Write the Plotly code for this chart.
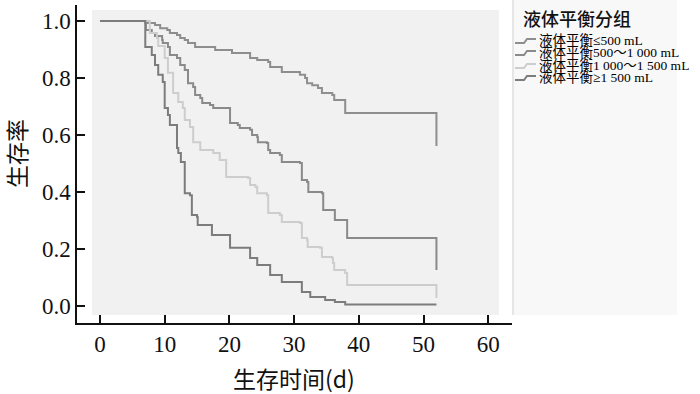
import plotly.graph_objects as go

# ---------------- data ----------------
group_names = ["液体平衡≤500 mL", "液体平衡500～1 000 mL", "液体平衡1 000～1 500 mL", "液体平衡≥1 500 mL"]
legend_title = "液体平衡分组"

tA = [0, 7.0, 8.5, 9.3, 10.4, 10.8, 11.9, 12.4, 13.1, 13.6, 14.7, 17.8, 20.4, 23.2, 24.3, 26.0, 26.3, 28.1,
      30.9, 31.7, 32.0, 32.8, 33.7, 34.3, 35.9, 36.2, 37.9, 52.0, 52.0]
sA = [1.0, 0.993, 0.986, 0.975, 0.968, 0.958, 0.951, 0.940, 0.933, 0.923, 0.909, 0.898, 0.888, 0.870, 0.863,
      0.856, 0.839, 0.821, 0.811, 0.800, 0.782, 0.775, 0.765, 0.747, 0.740, 0.723, 0.677, 0.677, 0.561]

tB = [0, 7.1, 8.0, 8.5, 9.6, 9.7, 10.5, 10.8, 11.9, 12.4, 13.1, 13.6, 14.4, 14.7, 15.5, 15.8, 17.0, 17.5, 20.1,
      21.3, 21.6, 23.2, 23.5, 24.3, 24.4, 25.8, 26.0, 26.3, 27.8, 28.1, 30.9, 31.2, 32.0, 32.2, 34.3, 34.5,
      36.3, 38.2, 52.0, 52.0]
sB = [1.0, 0.968, 0.958, 0.947, 0.933, 0.923, 0.909, 0.881, 0.870, 0.846, 0.828, 0.782, 0.768, 0.740, 0.730,
      0.712, 0.705, 0.695, 0.642, 0.635, 0.625, 0.618, 0.600, 0.593, 0.575, 0.572, 0.547, 0.537, 0.530, 0.505,
      0.502, 0.442, 0.435, 0.400, 0.396, 0.337, 0.302, 0.239, 0.239, 0.126]

tC = [0, 7.7, 8.8, 9.0, 10.0, 10.5, 11.3, 12.1, 12.8, 13.1, 13.9, 14.4, 15.5, 17.5, 18.5, 19.5, 22.9, 23.2,
      24.0, 24.3, 25.8, 26.0, 27.8, 28.1, 30.9, 31.2, 32.0, 32.1, 34.0, 34.3, 35.9, 36.0, 36.2, 37.9, 38.2,
      52.0, 52.0]
sC = [1.0, 0.958, 0.940, 0.912, 0.870, 0.818, 0.747, 0.716, 0.695, 0.653, 0.628, 0.575, 0.547, 0.537, 0.512,
      0.453, 0.449, 0.425, 0.418, 0.396, 0.389, 0.326, 0.319, 0.295, 0.291, 0.239, 0.232, 0.207, 0.204, 0.172,
      0.168, 0.151, 0.126, 0.116, 0.074, 0.074, 0.028]

tD = [0, 7.0, 8.0, 8.5, 9.0, 9.7, 10.0, 10.5, 10.8, 11.9, 12.1, 12.5, 13.1, 13.9, 14.2, 15.0, 15.1, 17.3, 20.1,
      23.2, 24.3, 26.3, 28.1, 31.2, 32.5, 34.8, 36.3, 37.9, 52.0]
sD = [1.0, 0.909, 0.881, 0.846, 0.811, 0.786, 0.695, 0.670, 0.635, 0.554, 0.537, 0.505, 0.396, 0.389, 0.319,
      0.312, 0.284, 0.249, 0.204, 0.168, 0.144, 0.109, 0.084, 0.049, 0.032, 0.021, 0.014, 0.005, 0.005]

x_ticks = [0, 10, 20, 30, 40, 50, 60]
y_ticks = [0.0, 0.2, 0.4, 0.6, 0.8, 1.0]
x_title = "生存时间(d)"
y_title = "生存率"

# ---------------- styling ----------------
colors = ["#8e8e8e", "#8a8a8a", "#cdcdcd", "#7c7c7c"]
W, H = 700, 394
L, R, T, B = 77, 512, 5, 323  # plot area in pixels


def px(x):
    return (x - L) / (R - L)


def py(y):
    return (B - y) / (B - T)


fig = go.Figure()
series = [(tA, sA), (tB, sB), (tC, sC), (tD, sD)]
for (t, s), name, c in zip(series, group_names, colors):
    fig.add_trace(go.Scatter(x=t, y=s, mode="lines", line=dict(shape="hv", color=c, width=2),
                             name=name, showlegend=False, hoverinfo="skip"))

shapes = []
# gray plotting panel
shapes.append(dict(type="rect", xref="paper", yref="paper", x0=px(92), x1=px(499), y0=py(315), y1=py(10),
                   fillcolor="#f1f1f1", line=dict(width=0), layer="below"))
# legend panel
shapes.append(dict(type="rect", xref="paper", yref="paper", x0=px(512), x1=px(677), y0=py(315), y1=py(0),
                   fillcolor="#f8f8f8", line=dict(width=0), layer="below"))
shapes.append(dict(type="line", xref="paper", yref="paper", x0=px(513), x1=px(513), y0=py(315), y1=py(0),
                   line=dict(color="#e6e6e6", width=2), layer="below"))

annotations = []
annotations.append(dict(text=legend_title, xref="paper", yref="paper", x=px(521), y=py(18), xanchor="left",
                        yanchor="middle", showarrow=False,
                        font=dict(family="Noto Sans CJK SC", size=18, color="#111", weight=500)))
row_y = [41, 53, 66, 78]
for name, c, yy in zip(group_names, colors, row_y):
    path = (f"M {px(515)},{py(yy + 2)} L {px(524)},{py(yy + 2)} L {px(527)},{py(yy - 2)} "
            f"L {px(536)},{py(yy - 2)}")
    shapes.append(dict(type="path", xref="paper", yref="paper", path=path, line=dict(color=c, width=2)))
    annotations.append(dict(text=name, xref="paper", yref="paper", x=px(537), y=py(yy), xanchor="left",
                            yanchor="middle", showarrow=False,
                            font=dict(family="Liberation Serif, Noto Sans CJK SC", size=13.5, color="#000")))

annotations.append(dict(text=y_title, xref="paper", yref="paper", x=px(16), y=py(153), textangle=-90,
                        xanchor="center", yanchor="middle", showarrow=False,
                        font=dict(family="Noto Sans CJK SC", size=23, color="#111")))
annotations.append(dict(text=x_title, xref="paper", yref="paper", x=px(294), y=py(378), xanchor="center",
                        yanchor="middle", showarrow=False,
                        font=dict(family="Noto Sans CJK SC", size=23, color="#111")))

tick_font = dict(family="Liberation Serif", size=23, color="#111")
fig.update_layout(
    width=W, height=H,
    margin=dict(l=L, r=W - R, t=T, b=H - B, pad=0),
    paper_bgcolor="white", plot_bgcolor="rgba(0,0,0,0)",
    showlegend=False,
    shapes=shapes, annotations=annotations,
    xaxis=dict(range=[(L - 100) / 6.47, (R - 100) / 6.47], tickvals=x_ticks, ticktext=[str(v) for v in x_ticks],
               showgrid=False, zeroline=False, showline=True, linecolor="#111", linewidth=1.5,
               ticks="inside", ticklen=8, tickwidth=1.5, tickcolor="#111", tickfont=tick_font),
    yaxis=dict(range=[(306 - B) / 285, (306 - T) / 285], tickvals=y_ticks,
               ticktext=[f"{v:.1f}" for v in y_ticks],
               showgrid=False, zeroline=False, showline=True, linecolor="#111", linewidth=1.5,
               ticks="inside", ticklen=8, tickwidth=1.5, tickcolor="#111", tickfont=tick_font),
)

fig.write_html("out.html", config={"displayModeBar": False},
               post_script="document.body.style.margin='0';document.body.style.overflow='hidden';")
